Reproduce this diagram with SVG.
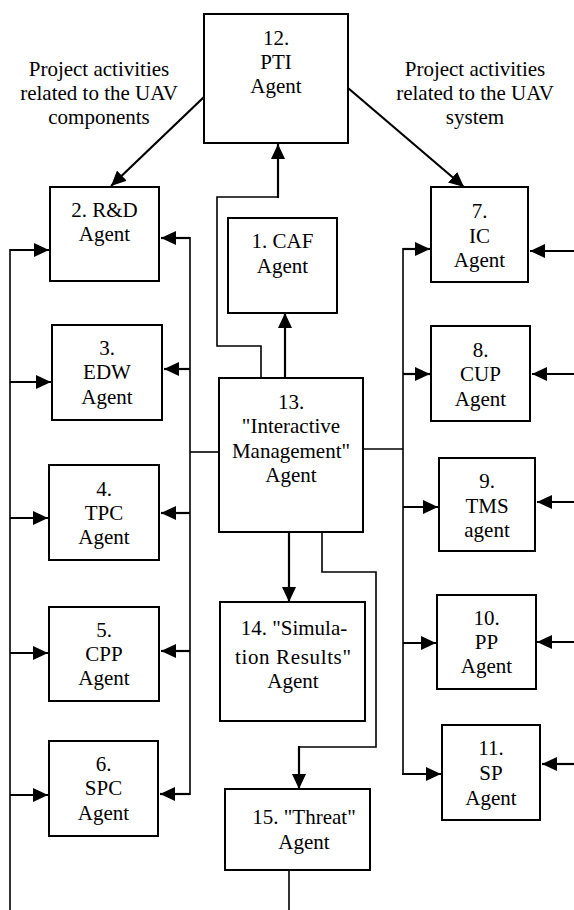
<svg xmlns="http://www.w3.org/2000/svg" width="574" height="910" viewBox="0 0 574 910">
<style>
.box{fill:#fff;stroke:#000;stroke-width:2}
text{font-family:'Liberation Serif',Tinos,'Times New Roman','DejaVu Serif',serif;font-size:21px;fill:#000;text-anchor:middle}
.c{fill:none;stroke:#000;stroke-width:2.2}
.thin{fill:none;stroke:#000;stroke-width:1.6}
.a{marker-end:url(#ah)}
</style>
<defs>
<marker id="ah" markerUnits="userSpaceOnUse" markerWidth="16" markerHeight="14" refX="15" refY="7" orient="auto">
<path d="M0,0 L15,7 L0,14 z" fill="#000"/>
</marker>
</defs>
<rect width="574" height="910" fill="#fff"/>

<g id="connectors">
<line class="c a" x1="204" y1="97" x2="111" y2="186"/>
<line class="c a" x1="348" y1="88" x2="464" y2="187"/>
<polyline class="thin" points="261,378 261,346 217,346 217,197 279,197"/>
<line class="c a" x1="278" y1="198" x2="278" y2="144"/>
<line class="c a" x1="285" y1="378" x2="285" y2="313"/>
<line class="thin" x1="219" y1="452" x2="190" y2="452"/>
<line class="thin" x1="190" y1="237" x2="190" y2="795"/>
<line class="c a" x1="190" y1="238" x2="161" y2="238"/>
<line class="c a" x1="190" y1="369" x2="164" y2="369"/>
<line class="c a" x1="190" y1="513" x2="161" y2="513"/>
<line class="c a" x1="190" y1="651" x2="161" y2="651"/>
<line class="c a" x1="190" y1="794" x2="160" y2="794"/>
<line class="thin" x1="10" y1="249" x2="10" y2="910"/>
<line class="c a" x1="10" y1="250" x2="49" y2="250"/>
<line class="c a" x1="10" y1="382" x2="51" y2="382"/>
<line class="c a" x1="10" y1="518" x2="48" y2="518"/>
<line class="c a" x1="10" y1="653" x2="48" y2="653"/>
<line class="c a" x1="10" y1="795" x2="48" y2="795"/>
<line class="thin" x1="363" y1="449" x2="403" y2="449"/>
<line class="thin" x1="403" y1="248" x2="403" y2="775"/>
<line class="c a" x1="403" y1="249" x2="430" y2="249"/>
<line class="c a" x1="403" y1="374" x2="430" y2="374"/>
<line class="c a" x1="403" y1="507" x2="438" y2="507"/>
<line class="c a" x1="403" y1="643" x2="436" y2="643"/>
<line class="c a" x1="402" y1="774" x2="441" y2="774"/>
<line class="c a" x1="574" y1="251" x2="530" y2="251"/>
<line class="c a" x1="574" y1="374" x2="532" y2="374"/>
<line class="c a" x1="574" y1="502" x2="537" y2="502"/>
<line class="c a" x1="574" y1="642" x2="537" y2="642"/>
<line class="c a" x1="574" y1="764" x2="542" y2="764"/>
<line class="c a" x1="289" y1="532" x2="289" y2="602"/>
<polyline class="thin" points="322,532 322,572 376,572 376,747 299,747 299,760"/>
<line class="c a" x1="299" y1="746" x2="299" y2="789"/>
<line class="thin" x1="289" y1="870" x2="289" y2="910"/>
</g>

<g id="label-components">
<text x="99" y="76">Project activities</text>
<text x="99" y="100">related to the UAV</text>
<text x="99" y="124">components</text>
</g>
<g id="label-system">
<text x="475" y="76">Project activities</text>
<text x="475" y="100">related to the UAV</text>
<text x="475" y="124">system</text>
</g>

<g id="n12">
<rect class="box" x="204" y="14" width="144" height="129"/>
<text x="276" y="45">12.</text>
<text x="276" y="69">PTI</text>
<text x="276" y="93">Agent</text>
</g>
<g id="n1">
<rect class="box" x="228" y="218" width="109" height="95"/>
<text x="282.5" y="248">1. CAF</text>
<text x="282.5" y="273">Agent</text>
</g>
<g id="n13">
<rect class="box" x="219" y="378" width="144" height="154"/>
<text x="291" y="409">13.</text>
<text x="291" y="433">"Interactive</text>
<text x="291" y="458">Management"</text>
<text x="291" y="482">Agent</text>
</g>
<g id="n14">
<rect class="box" x="220" y="602" width="145" height="119"/>
<text x="294" y="635">14. "Simula-</text>
<text x="293" y="664" textLength="116" lengthAdjust="spacing">tion Results"</text>
<text x="293" y="688">Agent</text>
</g>
<g id="n15">
<rect class="box" x="225" y="789" width="145" height="81"/>
<text x="304" y="824">15. "Threat"</text>
<text x="304" y="849">Agent</text>
</g>

<g id="n2">
<rect class="box" x="50" y="187" width="109" height="94"/>
<text x="104.5" y="217">2. R&amp;D</text>
<text x="104.5" y="241">Agent</text>
</g>
<g id="n3">
<rect class="box" x="52" y="325" width="110" height="95"/>
<text x="107" y="355">3.</text>
<text x="107" y="379">EDW</text>
<text x="107" y="404">Agent</text>
</g>
<g id="n4">
<rect class="box" x="49" y="465" width="110" height="95"/>
<text x="104" y="496">4.</text>
<text x="104" y="520">TPC</text>
<text x="104" y="544">Agent</text>
</g>
<g id="n5">
<rect class="box" x="49" y="607" width="110" height="94"/>
<text x="104" y="637">5.</text>
<text x="104" y="661">CPP</text>
<text x="104" y="685">Agent</text>
</g>
<g id="n6">
<rect class="box" x="49" y="741" width="109" height="95"/>
<text x="103.5" y="771">6.</text>
<text x="103.5" y="795">SPC</text>
<text x="103.5" y="820">Agent</text>
</g>

<g id="n7">
<rect class="box" x="431" y="187" width="97" height="95"/>
<text x="479.5" y="218">7.</text>
<text x="479.5" y="243">IC</text>
<text x="479.5" y="267">Agent</text>
</g>
<g id="n8">
<rect class="box" x="431" y="326" width="99" height="95"/>
<text x="480.5" y="357">8.</text>
<text x="480.5" y="381">CUP</text>
<text x="480.5" y="406">Agent</text>
</g>
<g id="n9">
<rect class="box" x="439" y="458" width="96" height="93"/>
<text x="487" y="488">9.</text>
<text x="487" y="513">TMS</text>
<text x="487" y="537">agent</text>
</g>
<g id="n10">
<rect class="box" x="437" y="595" width="99" height="94"/>
<text x="486.5" y="625">10.</text>
<text x="486.5" y="649">PP</text>
<text x="486.5" y="673">Agent</text>
</g>
<g id="n11">
<rect class="box" x="442" y="725" width="98" height="95"/>
<text x="491" y="755">11.</text>
<text x="491" y="780">SP</text>
<text x="491" y="805">Agent</text>
</g>
</svg>
